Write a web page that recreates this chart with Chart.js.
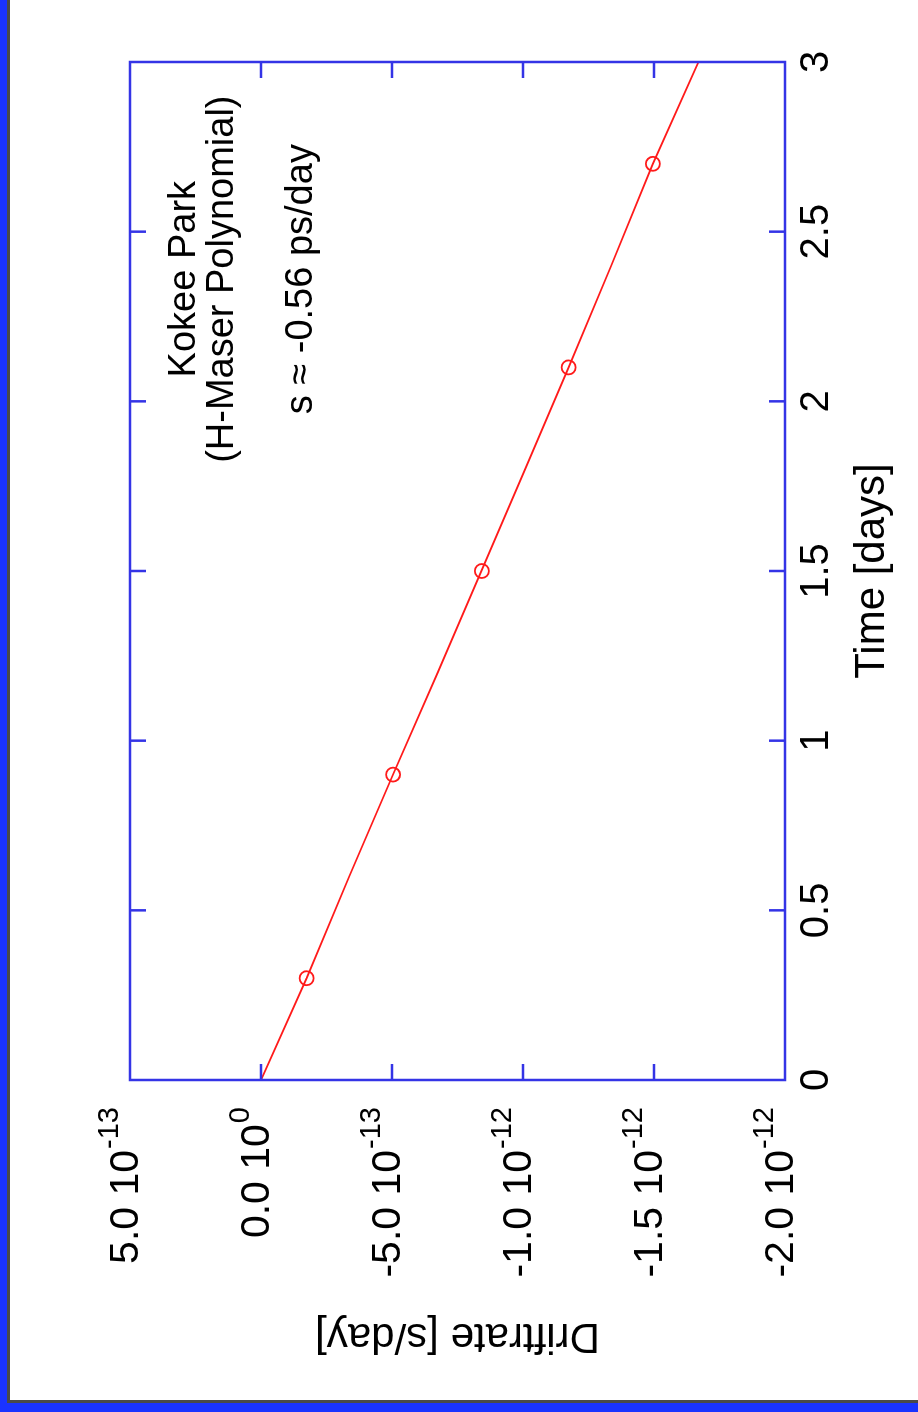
<!DOCTYPE html>
<html>
<head>
<meta charset="utf-8">
<script src="https://cdn.jsdelivr.net/npm/chart.js@4.4.1/dist/chart.umd.min.js"></script>
<style>
  html, body { margin: 0; padding: 0; background: #fff; width: 918px; height: 1412px; overflow: hidden; }
  /* chart is laid out landscape, then turned a quarter left like the slide */
  #wrap { position: absolute; left: 0; top: 0; width: 1412px; height: 918px;
          transform-origin: 0 0; transform: translate(0, 1412px) rotate(-90deg); }
  #frame { position: absolute; left: 0; top: 0; width: 918px; height: 1412px; box-sizing: border-box;
           border-left: 7px solid #1a33ff; border-bottom: 9px solid #1a33ff; pointer-events: none; }
  #frame div { position: absolute; left: 0; top: 0; right: 0; bottom: 0;
               border-left: 3px solid #4a4a4a; border-bottom: 3px solid #4a4a4a; }
</style>
</head>
<body>
<div id="wrap"><canvas id="chart" width="1412" height="918"></canvas></div>
<div id="frame"><div></div></div>
<script>
// polynomial fit
const timeDays = [0, 0.3, 0.6, 0.9, 1.2, 1.5, 1.8, 2.1, 2.4, 2.7, 3.0];
const driftRate = [0, -1.74e-13, -3.37e-13, -5.04e-13, -6.74e-13, -8.41e-13,
                   -1.008e-12, -1.174e-12, -1.337e-12, -1.496e-12, -1.67e-12];

// circled samples
const sampleTimes = [0.3, 0.9, 1.5, 2.1, 2.7];
const sampleDrift = [-1.74e-13, -5.04e-13, -8.43e-13, -1.174e-12, -1.496e-12];

const xTickValues = [0, 0.5, 1, 1.5, 2, 2.5, 3];
const xTickLabels = ['0', '0.5', '1', '1.5', '2', '2.5', '3'];
const yTickValues = [5e-13, 0, -5e-13, -1e-12, -1.5e-12, -2e-12];
const yTickMantissa = ['5.0', '0.0', '-5.0', '-1.0', '-1.5', '-2.0'];
const yTickExponent = ['-13', '0', '-13', '-12', '-12', '-12'];

const noteLines = ['Kokee Park', '(H-Maser Polynomial)', 's \u2248 -0.56 ps/day'];

const FONT = '"Liberation Sans", Arial, Helvetica, sans-serif';
const axisBlue = '#3434e6';
const lineRed = '#ff1a1a';

Chart.defaults.font.family = FONT;

// gnuplot style box with inward ticks, superscript y labels and the note
const gnuFrame = {
  id: 'gnuFrame',
  afterDraw(chart) {
    const { ctx, chartArea: a, scales: { x, y } } = chart;
    const tick = 16;
    ctx.save();
    ctx.strokeStyle = axisBlue;
    ctx.lineWidth = 2.5;
    ctx.beginPath();
    xTickValues.forEach(v => {
      const px = x.getPixelForValue(v);
      if (px <= a.left + 1 || px >= a.right - 1) return;
      ctx.moveTo(px, a.bottom); ctx.lineTo(px, a.bottom - tick);
      ctx.moveTo(px, a.top); ctx.lineTo(px, a.top + tick);
    });
    yTickValues.forEach(v => {
      const py = y.getPixelForValue(v);
      if (py <= a.top + 1 || py >= a.bottom - 1) return;
      ctx.moveTo(a.left, py); ctx.lineTo(a.left + tick, py);
      ctx.moveTo(a.right, py); ctx.lineTo(a.right - tick, py);
    });
    ctx.stroke();
    ctx.strokeRect(a.left, a.top, a.right - a.left, a.bottom - a.top);

    // y tick labels: mantissa 10^exp
    ctx.fillStyle = '#000';
    ctx.textBaseline = 'alphabetic';
    ctx.textAlign = 'right';
    const labelRight = a.left - 27;
    yTickValues.forEach((v, i) => {
      const py = y.getPixelForValue(v);
      ctx.font = '29px ' + FONT;
      const ew = ctx.measureText(yTickExponent[i]).width;
      ctx.fillText(yTickExponent[i], labelRight, py - 12);
      ctx.font = '41px ' + FONT;
      ctx.fillText(yTickMantissa[i] + ' 10', labelRight - ew - 1, py + 8);
    });

    // annotation
    ctx.textAlign = 'center';
    ctx.font = '38px ' + FONT;
    const cx = x.getPixelForValue(2.36);
    const offs = [65, 103, 182];
    noteLines.forEach((t, i) => ctx.fillText(t, cx, a.top + offs[i]));
    ctx.restore();
  }
};

new Chart(document.getElementById('chart'), {
  type: 'scatter',
  data: {
    datasets: [
      {
        label: 'polynomial',
        data: timeDays.map((t, i) => ({ x: t, y: driftRate[i] })),
        showLine: true,
        borderColor: lineRed,
        borderWidth: 1.8,
        pointRadius: 0,
        fill: false,
        tension: 0
      },
      {
        label: 'samples',
        data: sampleTimes.map((t, i) => ({ x: t, y: sampleDrift[i] })),
        showLine: false,
        pointStyle: 'circle',
        pointRadius: 7,
        pointBorderWidth: 1.8,
        borderColor: lineRed,
        backgroundColor: 'rgba(0,0,0,0)'
      }
    ]
  },
  options: {
    responsive: false,
    animation: false,
    devicePixelRatio: 1,
    layout: { padding: { left: 0, top: 130, right: 62, bottom: 0 } },
    plugins: { legend: { display: false }, tooltip: { enabled: false } },
    scales: {
      x: {
        type: 'linear',
        min: 0, max: 3,
        afterBuildTicks: s => { s.ticks = xTickValues.map(v => ({ value: v })); },
        afterFit: s => { s.height = 133; },
        grid: { display: false, drawTicks: false },
        border: { display: false },
        ticks: {
          autoSkip: false, maxRotation: 0, padding: 8, color: '#000',
          font: { family: FONT, size: 40 },
          callback: (v, i) => xTickLabels[i]
        },
        title: {
          display: true, text: 'Time [days]', color: '#000',
          font: { family: FONT, size: 42 }, padding: { top: 0, bottom: 20 }
        }
      },
      y: {
        type: 'linear',
        min: -2e-12, max: 5e-13,
        afterBuildTicks: s => { s.ticks = yTickValues.map(v => ({ value: v })); },
        afterFit: s => { s.width = 332; },
        grid: { display: false, drawTicks: false },
        border: { display: false },
        ticks: { display: false },
        title: {
          display: true, text: 'Driftrate [s/day]', color: '#000',
          font: { family: FONT, size: 42 }, padding: { top: 51, bottom: 0 }
        }
      }
    }
  },
  plugins: [gnuFrame]
});
</script>
</body>
</html>
